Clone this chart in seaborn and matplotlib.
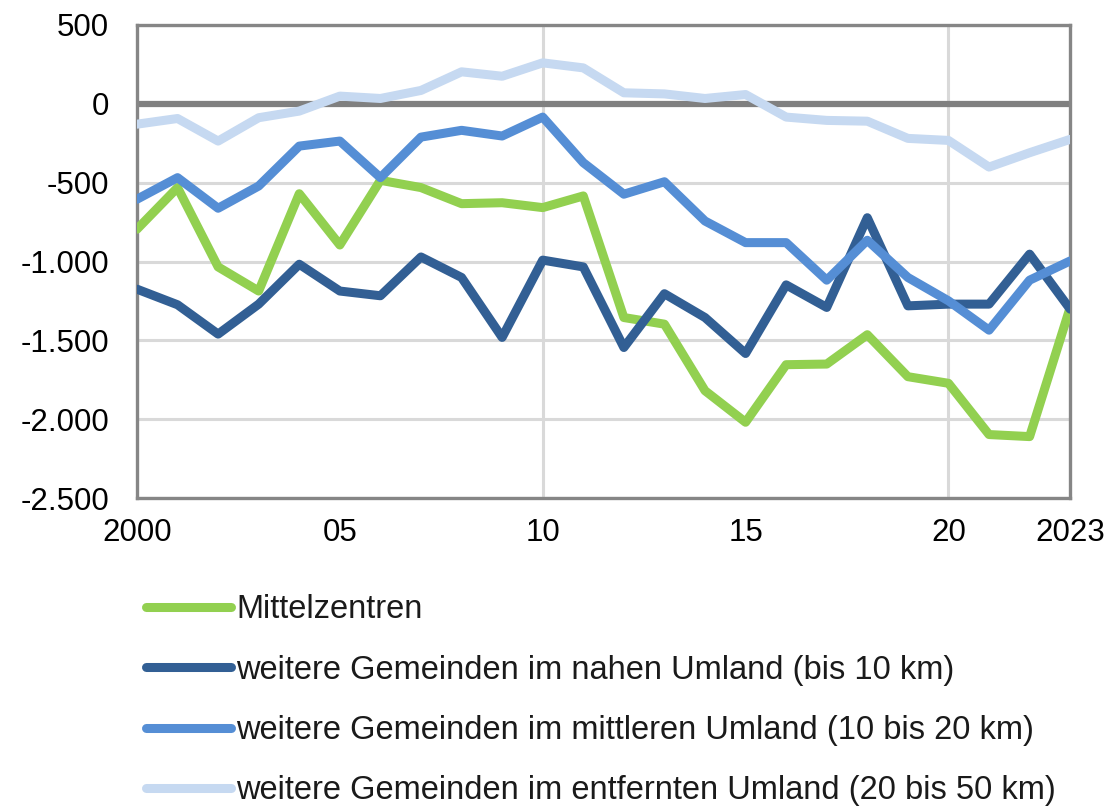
import pandas as pd
import matplotlib.pyplot as plt
import seaborn as sns
from matplotlib.ticker import FuncFormatter

# Jahre 2000 bis 2023
years = list(range(2000, 2024))

# Werte je Gebietstyp
mittelzentren = [-795, -531, -1034, -1187, -570, -895, -485, -531, -633, -627, -658, -584,
                 -1355, -1397, -1819, -2019, -1654, -1650, -1464, -1730, -1772, -2097, -2110, -1291]
nahes_umland = [-1175, -1274, -1460, -1270, -1017, -1187, -1217, -971, -1101, -1481, -991, -1034,
                -1545, -1204, -1355, -1583, -1148, -1291, -722, -1281, -1270, -1270, -953, -1302]
mittleres_umland = [-605, -468, -662, -521, -268, -236, -468, -211, -168, -204, -84, -373,
                    -573, -494, -743, -880, -880, -1118, -865, -1101, -1249, -1435, -1118, -996]
entferntes_umland = [-129, -93, -236, -88, -46, 49, 34, 85, 203, 175, 260, 228,
                     70, 63, 34, 59, -84, -105, -110, -219, -232, -401, -310, -225]

series_names = [
    "Mittelzentren",
    "weitere Gemeinden im nahen Umland (bis 10 km)",
    "weitere Gemeinden im mittleren Umland (10 bis 20 km)",
    "weitere Gemeinden im entfernten Umland (20 bis 50 km)",
]
colors = ["#92D050", "#325F94", "#558ED5", "#C6D9F1"]

x_ticks = [2000, 2005, 2010, 2015, 2020, 2023]
x_tick_labels = ["2000", "05", "10", "15", "20", "2023"]
y_ticks = [-2500, -2000, -1500, -1000, -500, 0, 500]

# long format for seaborn
frames = []
for name, vals in zip(series_names, [mittelzentren, nahes_umland, mittleres_umland, entferntes_umland]):
    frames.append(pd.DataFrame({"Jahr": years, "Wert": vals, "Gruppe": name}))
df = pd.concat(frames, ignore_index=True)

sns.set_style("white")
plt.rcParams['font.family'] = ['Liberation Sans', 'DejaVu Sans']

fig = plt.figure(figsize=(11.09, 8.06), dpi=100)
ax = fig.add_axes([0.1235, 0.382, 0.8415, 0.587])

# gridlines
for yv in y_ticks:
    ax.axhline(yv, color="#D9D9D9", lw=2.2, zorder=0)
for xv in [2010, 2020]:
    ax.axvline(xv, color="#D9D9D9", lw=2.2, zorder=0)
ax.axhline(0, color="#808080", lw=4.5, zorder=1)

sns.lineplot(data=df, x="Jahr", y="Wert", hue="Gruppe", hue_order=series_names,
             palette=colors, lw=6.5, ax=ax, legend=True, zorder=3)

ax.set_xlim(2000, 2023)
ax.set_ylim(-2500, 500)
ax.set_xticks(x_ticks)
ax.set_xticklabels(x_tick_labels)
ax.set_yticks(y_ticks)
ax.yaxis.set_major_formatter(FuncFormatter(lambda v, p: f"{int(v):,}".replace(",", ".")))
ax.tick_params(axis="both", labelsize=22.5, length=0, colors="#000000")
ax.tick_params(axis="x", pad=14)
ax.tick_params(axis="y", pad=20)
ax.set_xlabel("")
ax.set_ylabel("")
for s in ax.spines.values():
    s.set_color("#868686")
    s.set_linewidth(2.4)
    s.set_visible(True)

handles, labels = ax.get_legend_handles_labels()
ax.legend(handles, labels, loc="upper left", bbox_to_anchor=(0.12, 0.279),
          bbox_transform=fig.transFigure, frameon=False, fontsize=23.5, labelcolor="#1a1a1a",
          handlelength=2.6, handletextpad=0.15, labelspacing=0.9, borderaxespad=0)

fig.savefig("out.png", dpi=100)
